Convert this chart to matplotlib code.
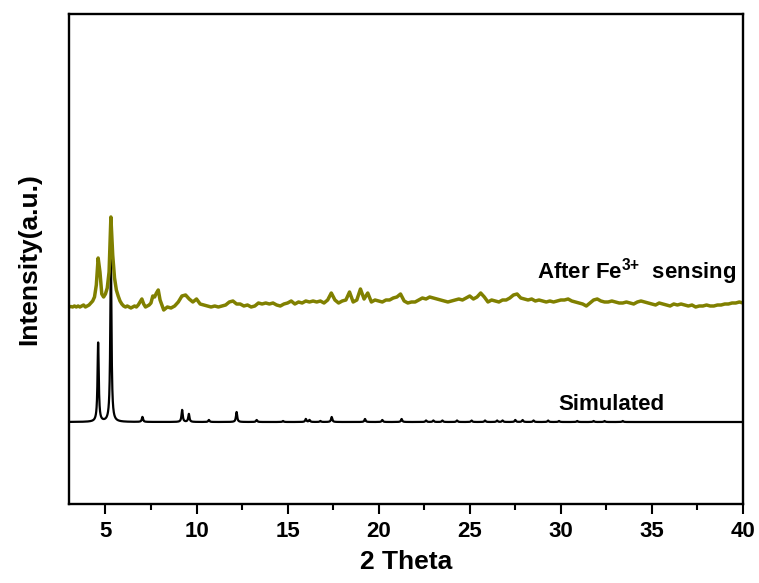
import matplotlib.pyplot as plt
import numpy as np

plt.rcParams['font.family'] = ['Liberation Sans', 'DejaVu Sans']
plt.rcParams['font.weight'] = 'bold'
plt.rcParams['mathtext.fontset'] = 'custom'
plt.rcParams['mathtext.bf'] = 'Liberation Sans:bold'
plt.rcParams['mathtext.rm'] = 'Liberation Sans:bold'

# Simulated pattern: reflection positions (2theta) and intensities (a.u.)
sim_pos = [4.60, 5.30, 7.03, 9.21, 9.58, 10.68, 12.20, 13.30, 14.75, 16.00,
           16.20, 16.80, 17.42, 19.25, 20.20, 21.26, 22.60, 23.00, 23.50, 24.30,
           25.10, 25.84, 26.50, 26.80, 27.50, 27.90, 28.50, 29.30, 29.90, 30.90,
           31.80, 32.40, 33.40]
sim_int = [79, 163, 5, 12, 8, 2, 10, 2, 1, 3,
           2, 1, 5, 3, 2, 3, 1.5, 1.5, 1.5, 1.5,
           1.5, 1.5, 1.5, 1.5, 2, 2, 1.5, 1.5, 1, 1,
           1, 1, 1]
sim_fwhm = 0.08
sim_offset = 82

# Measured pattern after Fe3+ sensing
scan_fine = np.round(np.arange(3.0, 7.95, 0.1), 2)     # 3.0 - 7.9
scan_coarse = np.round(np.arange(8.0, 40.01, 0.2), 2)  # 8.0 - 40.0
fe_int_fine = [1, 1.5, 1, 2, 1, 2, 1, 2, 3, 1,
               2, 3, 5, 7, 11, 23, 50, 36, 14, 11,
               14, 20, 36, 91, 53, 30, 18, 12, 7, 4,
               2, 1, 2, 1, 0, 1, 2, 1, 3, 6,
               9, 4, 1, 2, 3, 5, 12, 11, 15, 18]
fe_int_coarse = [8, -2, 1, 0, 2,      # 8
                 6, 12, 13, 9, 6,     # 9
                 9, 4, 3, 2, 1,       # 10
                 2, 1, 2, 3, 6,       # 11
                 7, 4, 4, 2, 3,       # 12
                 1, 2, 5, 4, 5,       # 13
                 4, 5, 3, 2, 4,       # 14
                 5, 7, 4, 6, 5,       # 15
                 7, 6, 7, 6, 7,       # 16
                 5, 8, 15, 8, 5,      # 17
                 7, 8, 16, 6, 8,      # 18
                 19, 9, 15, 6, 8,     # 19
                 7, 6, 8, 8, 10,      # 20
                 11, 14, 7, 5, 6,     # 21
                 6, 8, 10, 9, 11,     # 22
                 10, 9, 8, 7, 6,      # 23
                 7, 8, 9, 8, 10,      # 24
                 12, 9, 11, 15, 11,   # 25
                 6, 8, 7, 6, 8,       # 26
                 8, 10, 13, 14, 10,   # 27
                 9, 8, 9, 7, 8,       # 28
                 7, 6, 7, 6, 7,       # 29
                 8, 8, 9, 7, 6,       # 30
                 5, 4, 2, 5, 8,       # 31
                 9, 7, 6, 6, 7,       # 32
                 6, 5, 5, 6, 5,       # 33
                 4, 6, 7, 6, 5,       # 34
                 4, 3, 5, 4, 3,       # 35
                 2, 4, 3, 4, 3,       # 36
                 2, 3, 1, 2, 2,       # 37
                 3, 2, 2, 3, 3,       # 38
                 4, 4, 5, 5, 6,       # 39
                 5]                   # 40
fe_offset = 196

x_ticks = [5, 10, 15, 20, 25, 30, 35, 40]

# Build the simulated profile from the reflection list (Lorentzian lines)
tt = np.linspace(3, 40, 7401)
hw = sim_fwhm / 2
sim_profile = np.zeros_like(tt)
for p, h in zip(sim_pos, sim_int):
    sim_profile += h / (1 + ((tt - p) / hw) ** 2)

fe_x = np.concatenate([scan_fine, scan_coarse])
fe_y = np.array(fe_int_fine + fe_int_coarse, dtype=float)

fig = plt.figure(figsize=(7.59, 5.83), dpi=100)
ax = fig.add_axes([0.0909, 0.1355, 0.888, 0.8405])

ax.plot(tt, sim_profile + sim_offset, color='black', linewidth=1.6)
ax.plot(fe_x, fe_y + fe_offset, color='#808000', linewidth=2.5)

ax.text(29.87, 94, 'Simulated', fontsize=16, fontweight='bold', va='baseline')
ax.text(28.68, 225, r'After Fe$^{\mathbf{3{+}}}$  sensing', fontsize=16,
        fontweight='bold', va='baseline')

ax.set_xlim(3, 40)
ax.set_ylim(0, 490)
ax.set_xticks(x_ticks)
ax.set_xticks(np.arange(7.5, 40, 5), minor=True)
ax.set_yticks([])
ax.tick_params(axis='x', which='major', direction='out', length=7, width=1.5,
               labelsize=16, pad=5)
ax.tick_params(axis='x', which='minor', direction='out', length=4.5, width=1.5)
for s in ax.spines.values():
    s.set_linewidth(1.7)

ax.set_xlabel('2 Theta', fontsize=19, fontweight='bold', labelpad=6)
ax.set_ylabel('Intensity(a.u.)', fontsize=19, fontweight='bold', labelpad=20)

fig.savefig('out.png', dpi=100)
